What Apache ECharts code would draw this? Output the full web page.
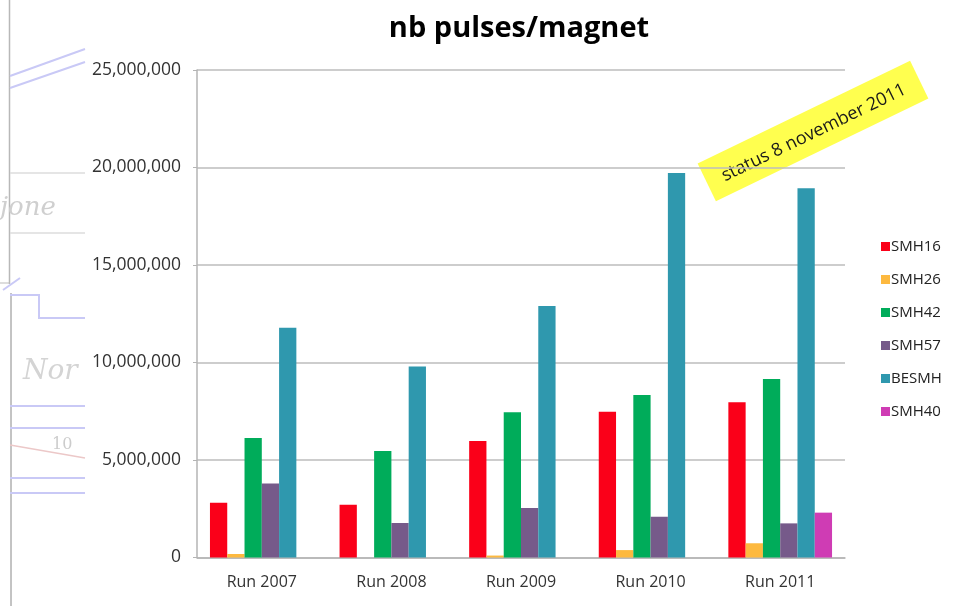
<!DOCTYPE html>
<html>
<head>
<meta charset="utf-8">
<script src="https://cdn.jsdelivr.net/npm/echarts@6/dist/echarts.min.js"></script>
<style>
html,body{margin:0;padding:0;background:#fff;}
#chart{width:961px;height:606px;}
</style>
</head>
<body>
<div id="chart"></div>
<script>
var categories = ['Run 2007', 'Run 2008', 'Run 2009', 'Run 2010', 'Run 2011'];
var seriesNames = ['SMH16', 'SMH26', 'SMH42', 'SMH57', 'BESMH', 'SMH40'];
var smh16 = [2810000, 2710000, 5970000, 7480000, 7960000];
var smh26 = [180000, 0, 100000, 380000, 730000];
var smh42 = [6130000, 5460000, 7450000, 8330000, 9150000];
var smh57 = [3800000, 1770000, 2540000, 2090000, 1750000];
var besmh = [11780000, 9800000, 12900000, 19720000, 18930000];
var smh40 = [0, 0, 0, 0, 2300000];
var yTicks = [0, 5000000, 10000000, 15000000, 20000000, 25000000];
var titleText = 'nb pulses/magnet';
var noteText = 'status 8 november 2011';

var colors = ['#FA0019', '#FDB93F', '#00AC5A', '#765A8A', '#2F98AE', '#CF3CB4'];
var values = [smh16, smh26, smh42, smh57, besmh, smh40];

var chart = echarts.init(document.getElementById('chart'));
var font = '"Open Sans", "Liberation Sans", sans-serif';

var series = seriesNames.map(function (n, i) {
  return {
    name: n,
    type: 'bar',
    data: values[i],
    itemStyle: { color: colors[i] },
    barGap: '0%',
    barCategoryGap: '20%'
  };
});

var faint = '#c9c9f6';
var bgGraphics = [
  { type: 'line', shape: { x1: 9.5, y1: 0, x2: 9.5, y2: 284 }, style: { stroke: '#b8b8b8', lineWidth: 1.5 } },
  { type: 'line', shape: { x1: 0, y1: 283, x2: 9.5, y2: 283 }, style: { stroke: '#bbbbbb', lineWidth: 1 } },
  { type: 'line', shape: { x1: 11, y1: 293, x2: 11, y2: 606 }, style: { stroke: '#888888', lineWidth: 1 } },
  { type: 'line', shape: { x1: 10, y1: 76, x2: 85, y2: 49 }, style: { stroke: faint, lineWidth: 2 } },
  { type: 'line', shape: { x1: 10, y1: 88, x2: 85, y2: 62 }, style: { stroke: faint, lineWidth: 2 } },
  { type: 'line', shape: { x1: 10, y1: 173, x2: 85, y2: 173 }, style: { stroke: '#dddddd', lineWidth: 1.5 } },
  { type: 'line', shape: { x1: 10, y1: 233, x2: 85, y2: 233 }, style: { stroke: '#dddddd', lineWidth: 1.5 } },
  { type: 'text', style: { text: 'jone', x: 0, y: 208, fill: '#cfcfcf', font: 'italic 26px "DejaVu Serif", serif', verticalAlign: 'middle' } },
  { type: 'polyline', shape: { points: [[10, 295], [39, 295], [39, 318], [85, 318]] }, style: { stroke: faint, lineWidth: 2, fill: null } },
  { type: 'line', shape: { x1: 3, y1: 290, x2: 20, y2: 278 }, style: { stroke: faint, lineWidth: 2 } },
  { type: 'text', style: { text: 'Nor', x: 23, y: 372, fill: '#d4d4d4', font: 'italic 28px "DejaVu Serif", serif', verticalAlign: 'middle' } },
  { type: 'line', shape: { x1: 10, y1: 406, x2: 85, y2: 406 }, style: { stroke: faint, lineWidth: 2 } },
  { type: 'line', shape: { x1: 10, y1: 428, x2: 85, y2: 428 }, style: { stroke: faint, lineWidth: 2 } },
  { type: 'line', shape: { x1: 10, y1: 445, x2: 85, y2: 458 }, style: { stroke: '#ecc8c8', lineWidth: 1.5 } },
  { type: 'text', style: { text: '10', x: 52, y: 445, fill: '#cccccc', font: '16px "DejaVu Serif", serif', verticalAlign: 'middle' } },
  { type: 'line', shape: { x1: 10, y1: 478, x2: 85, y2: 478 }, style: { stroke: faint, lineWidth: 2 } },
  { type: 'line', shape: { x1: 10, y1: 493, x2: 85, y2: 493 }, style: { stroke: faint, lineWidth: 2 } }
];

var noteGraphic = {
  type: 'group',
  x: 813, y: 131,
  rotation: 25.8 * Math.PI / 180,
  z: 100,
  children: [
    { type: 'rect', shape: { x: -118, y: -21, width: 236, height: 42 }, style: { fill: '#FFFF4F' } },
    { type: 'text', style: { text: noteText, x: 0, y: 2, align: 'center', verticalAlign: 'middle', fill: '#1a1a1a', font: '18px "Open Sans", "Liberation Sans", sans-serif' } }
  ]
};

chart.setOption({
  animation: false,
  backgroundColor: '#ffffff',
  color: colors,
  title: {
    text: titleText,
    left: 514,
    top: 9,
    textAlign: 'center',
    textStyle: { fontFamily: font, fontSize: 29, fontWeight: 'bold', color: '#000' }
  },
  legend: {
    data: seriesNames,
    orient: 'vertical',
    left: 876,
    top: 234,
    itemWidth: 9,
    itemHeight: 9,
    itemGap: 18,
    icon: 'rect',
    textStyle: { fontFamily: font, fontSize: 15, color: '#222', lineHeight: 15, padding: [0, 0, 0, -4] }
  },
  grid: { left: 197, right: 116, top: 70, bottom: 48.5, containLabel: false },
  xAxis: {
    type: 'category',
    data: categories,
    axisLine: { lineStyle: { color: '#b4b4b4', width: 1.5 } },
    axisTick: { show: false },
    axisLabel: { fontFamily: font, fontSize: 16, color: '#333', margin: 17 }
  },
  yAxis: {
    type: 'value',
    min: yTicks[0],
    max: yTicks[yTicks.length - 1],
    interval: yTicks[1] - yTicks[0],
    axisLine: { show: true, lineStyle: { color: '#b4b4b4', width: 1.5 } },
    axisTick: { show: true, length: 4, lineStyle: { color: '#b4b4b4' } },
    splitLine: { lineStyle: { color: '#bcbcbc', width: 1.5 } },
    axisLabel: {
      fontFamily: font, fontSize: 17.5, color: '#333', margin: 16,
      formatter: function (v) { return v.toLocaleString('en-US'); }
    }
  },
  graphic: bgGraphics.concat([noteGraphic]),
  series: series
});
</script>
</body>
</html>
